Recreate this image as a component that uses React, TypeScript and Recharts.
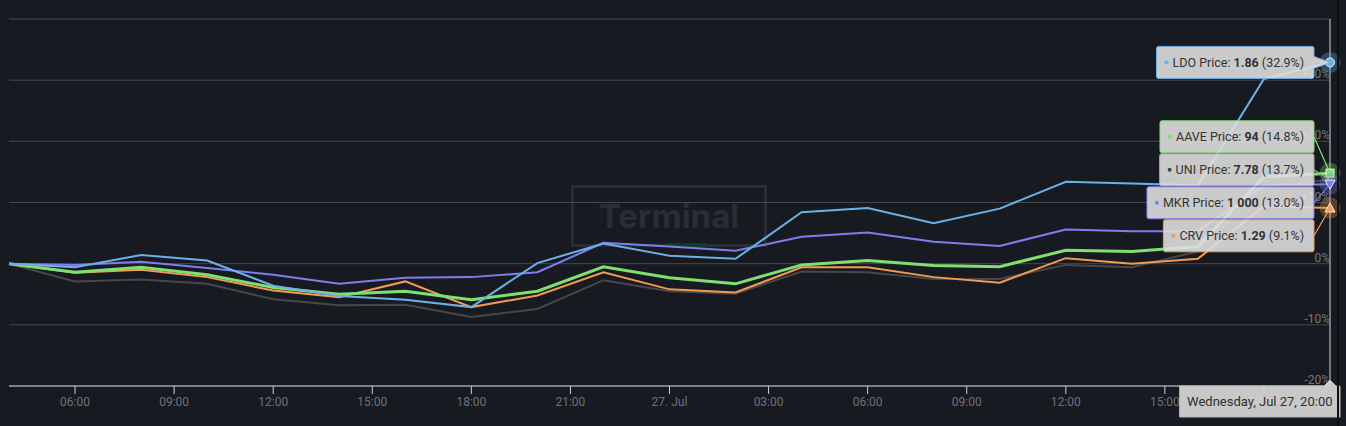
import React, { useState, useLayoutEffect, useCallback } from 'react';
import { LineChart, Line, XAxis, YAxis, CartesianGrid, ReferenceLine } from 'recharts';

// ---------- data ----------
const hours = [4, 6, 8, 10, 12, 14, 16, 18, 20, 22, 24, 26, 28, 30, 32, 34, 36, 38, 40, 42, 44];
const ldoPct = [0, -0.6, 1.4, 0.5, -3.6, -5.3, -5.9, -7.1, 0.1, 3.3, 1.3, 0.8, 8.4, 9.1, 6.6, 9.0, 13.4, 13.1, 12.8, 30.2, 32.9];
const aavePct = [0, -1.4, -0.6, -1.8, -3.9, -5.0, -4.5, -5.9, -4.5, -0.5, -2.3, -3.3, -0.2, 0.5, -0.3, -0.5, 2.2, 2.0, 2.8, 14.2, 14.8];
const uniPct = [0, -2.9, -2.6, -3.3, -5.8, -6.8, -6.7, -8.7, -7.4, -2.7, -4.5, -4.9, -1.3, -1.4, -2.5, -2.5, -0.2, -0.6, 2.0, 12.6, 13.7];
const mkrPct = [0, -0.2, 0.3, -0.7, -1.8, -3.3, -2.3, -2.2, -1.4, 3.4, 2.8, 2.1, 4.4, 5.1, 3.6, 2.9, 5.6, 5.3, 5.3, 12.8, 13.0];
const crvPct = [0, -1.5, -1.0, -2.2, -4.4, -5.5, -2.9, -7.1, -5.2, -1.4, -4.2, -4.7, -0.6, -0.6, -2.2, -3.1, 0.9, 0.0, 0.8, 9.4, 9.1];

const seriesNames = ['UNI', 'CRV', 'AAVE', 'MKR', 'LDO'];
const lastPrices = ['7.78', '1.29', '94', '1\u00a0000', '1.86'];
const lastChanges = [13.7, 9.1, 14.8, 13.0, 32.9];

const xTicks = [6, 9, 12, 15, 18, 21, 24, 27, 30, 33, 36, 39, 42];
const yTicks = [-20, -10, 0, 10, 20, 30, 40];
const dateLabel = 'Wednesday, Jul 27, 20:00';
const watermark = 'Terminal';

// ---------- styles ----------
const W = 1346;
const H = 426;
const BG = '#181a21';
const FONT = 'Roboto, "Liberation Sans", sans-serif';
const LABEL_FS = 12.5;
const seriesStyle: Record<string, { color: string; width: number; shape: string; border: string }> = {
  UNI: { color: '#474747', width: 2, shape: 'diamond', border: '#a8a8a8' },
  CRV: { color: '#f29b52', width: 2, shape: 'triangle', border: '#f29b52' },
  AAVE: { color: '#7fe06f', width: 3, shape: 'square', border: '#7fe06f' },
  MKR: { color: '#7d7ef0', width: 2, shape: 'triangle-down', border: '#7d7ef0' },
  LDO: { color: '#6cb0e8', width: 2, shape: 'circle', border: '#6cb0e8' },
};
const seriesValues = [uniPct, crvPct, aavePct, mkrPct, ldoPct];

const data = hours.map((h, i) => {
  const row: Record<string, number> = { h };
  seriesNames.forEach((n, k) => {
    row[n] = seriesValues[k][i];
  });
  return row;
});

let ctx: CanvasRenderingContext2D | null = null;
function measure(text: string, font: string) {
  if (!ctx) ctx = document.createElement('canvas').getContext('2d');
  if (!ctx) return text.length * 6;
  ctx.font = font;
  return ctx.measureText(text).width;
}

function fmtHour(h: number) {
  const hh = h % 24;
  if (hh === 0) return '27. Jul';
  return `${hh < 10 ? '0' : ''}${hh}:00`;
}

type Pos = Record<string, { x: number; y: number }>;

function EndDot(props: any) {
  const { cx, cy, name, register } = props;
  const st = seriesStyle[name];
  useLayoutEffect(() => {
    if (typeof cx === 'number' && typeof cy === 'number') register(name, cx, cy);
  }, [cx, cy]);
  if (typeof cx !== 'number' || typeof cy !== 'number') return <g />;
  let m: React.ReactNode = null;
  if (st.shape === 'circle') m = <circle cx={cx} cy={cy} r={4.5} fill={st.color} stroke="#e8f2ff" strokeWidth={1} />;
  else if (st.shape === 'square') m = <rect x={cx - 4} y={cy - 4} width={8} height={8} fill={st.color} stroke="#eaffea" strokeWidth={1} />;
  else if (st.shape === 'triangle-down') m = <path d={`M${cx - 5},${cy - 4}L${cx + 5},${cy - 4}L${cx},${cy + 5}Z`} fill={st.color} stroke="#eeeeff" strokeWidth={1} />;
  else if (st.shape === 'triangle') m = <path d={`M${cx - 5},${cy + 4}L${cx + 5},${cy + 4}L${cx},${cy - 5}Z`} fill={st.color} stroke="#fff2e6" strokeWidth={1} />;
  else m = <path d={`M${cx},${cy - 4}L${cx + 4},${cy}L${cx},${cy + 4}L${cx - 4},${cy}Z`} fill={st.color} />;
  return (
    <g>
      <circle cx={cx} cy={cy} r={10.5} fill={st.color} opacity={st.shape === 'diamond' ? 0 : 0.3} />
      {m}
    </g>
  );
}

function YTick(props: any) {
  const { x, y, payload } = props;
  const v = payload?.value;
  if (v === 40) return <g />;
  const label = v > 0 ? `+${v}%` : `${v}%`;
  return (
    <text x={x} y={y - 2} textAnchor="end" fill="#74777e" fontSize={12} fontFamily={FONT}>
      {label}
    </text>
  );
}

function XTick(props: any) {
  const { x, y, payload, register, axisY } = props;
  const v = payload?.value;
  useLayoutEffect(() => {
    if (typeof y === 'number') register('__bottom', x, y - axisY);
  }, [x, y]);
  return (
    <text x={x} y={y} dy="0.71em" textAnchor="middle" fill="#6e7178" fontSize={12} fontFamily={FONT}>
      {fmtHour(v)}
    </text>
  );
}

function callout(x: number, y: number, w: number, h: number, ax: number, ay: number) {
  const r = 2;
  let right: string;
  if (ay > y + 8 && ay < y + h - 8) {
    right = `L${x + w},${ay - 6} L${ax},${ay} L${x + w},${ay + 6}`;
  } else {
    right = `L${x + w},${y + h / 2} L${ax},${ay} L${x + w},${y + h / 2}`;
  }
  return `M${x + r},${y} L${x + w - r},${y} Q${x + w},${y} ${x + w},${y + r} ${right} L${x + w},${y + h - r} Q${x + w},${y + h} ${x + w - r},${y + h} L${x + r},${y + h} Q${x},${y + h} ${x},${y + h - r} L${x},${y + r} Q${x},${y} ${x + r},${y} Z`;
}

function layoutLabels(pos: Pos) {
  const BOX_H = 32;
  const PITCH = 33;
  const items = seriesNames
    .map((n, k) => ({ name: n, k, x: pos[n]?.x, y: pos[n]?.y }))
    .filter((it) => typeof it.y === 'number')
    .sort((a, b) => a.y - b.y);
  let groups = items.map((it) => ({ items: [it], top: it.y - BOX_H / 2 }));
  let changed = true;
  while (changed) {
    changed = false;
    for (let i = 0; i < groups.length - 1; i++) {
      const g = groups[i];
      const nx = groups[i + 1];
      if (g.top + g.items.length * PITCH > nx.top) {
        const all = [...g.items, ...nx.items];
        const top = all.reduce((s, it, j) => s + (it.y - BOX_H / 2 - j * PITCH), 0) / all.length;
        groups.splice(i, 2, { items: all, top });
        changed = true;
        break;
      }
    }
  }
  const out: { name: string; k: number; x: number; y: number; top: number }[] = [];
  groups.forEach((g) => g.items.forEach((it, j) => out.push({ ...it, top: g.top + j * PITCH })));
  return out;
}

const TICK_SIZE = 8;
const TICK_MARGIN = 3;

export default function App() {
  const [pos, setPos] = useState<Pos>({});
  const register = useCallback((k: string, x: number, y: number) => {
    setPos((p) => (p[k] && p[k].x === x && p[k].y === y ? p : { ...p, [k]: { x, y } }));
  }, []);

  const ready = seriesNames.every((n) => pos[n]) && pos.__bottom;
  const labels = ready ? layoutLabels(pos) : [];

  const fontN = `${LABEL_FS}px ${FONT}`;
  const fontB = `bold ${LABEL_FS}px ${FONT}`;

  let dateBox: React.ReactNode = null;
  if (ready) {
    const ax = pos.LDO.x;
    const top = pos.__bottom.y;
    const w = measure(dateLabel, `13px ${FONT}`) + 15;
    const h = 31;
    const left = Math.min(ax - w / 2, W - 6 - w);
    const d = `M${left},${top} L${ax - 6},${top} L${ax},${top - 6} L${ax + 6},${top} L${left + w},${top} L${left + w},${top + h} L${left},${top + h} Z`;
    dateBox = (
      <g>
        <path d={d} fill="rgba(214,214,214,0.93)" stroke="#b9b9b9" strokeWidth={1} />
        <text x={left + w / 2} y={top + h / 2 + 4.5} textAnchor="middle" fontSize={13} fontFamily={FONT} fill="#2e2e2e">
          {dateLabel}
        </text>
      </g>
    );
  }

  return (
    <div style={{ position: 'absolute', left: 0, top: 0, width: W, height: H, background: BG, overflow: 'hidden', fontFamily: FONT }}>
      {/* watermark */}
      <div
        style={{
          position: 'absolute',
          left: 571,
          top: 185,
          width: 190,
          height: 56,
          border: '3px solid #292c33',
          color: '#2a2d34',
          fontWeight: 700,
          fontSize: 33,
          lineHeight: '56px',
          textAlign: 'center',
          fontFamily: 'Inter, sans-serif',
        }}
      >
        {watermark}
      </div>
      <div style={{ position: 'absolute', left: 666, top: 243, width: 41, height: 4, background: '#0f3a2d' }} />
      <div style={{ position: 'absolute', left: 0, top: 0 }}>
        <LineChart width={W} height={H} data={data} margin={{ top: 19, right: 15, left: 9, bottom: 10 }}>
          <CartesianGrid vertical={false} stroke="#45484f" />
          <XAxis
            dataKey="h"
            type="number"
            domain={[4, 44]}
            ticks={xTicks}
            interval={0}
            height={30}
            stroke="#c9d1e3"
            tickSize={TICK_SIZE}
            tickMargin={TICK_MARGIN}
            tick={(p: any) => (
              <XTick key={`xt-${p.payload?.value}`} {...p} register={register} axisY={TICK_SIZE + TICK_MARGIN} />
            )}
          />
          <YAxis
            orientation="right"
            width={1}
            domain={[-20, 40]}
            ticks={yTicks}
            interval={0}
            axisLine={false}
            tickLine={false}
            tickSize={0}
            tickMargin={0}
            tick={(p: any) => <YTick key={`yt-${p.payload?.value}`} {...p} />}
          />
          <ReferenceLine x={44} stroke="#cfd3da" strokeWidth={1} />
          {seriesNames.map((n) => (
            <Line
              key={n}
              dataKey={n}
              type="linear"
              stroke={seriesStyle[n].color}
              strokeWidth={seriesStyle[n].width}
              isAnimationActive={false}
              activeDot={false}
              dot={(p: any) =>
                p.index === hours.length - 1 ? (
                  <EndDot key={`dot-${n}-${p.index}`} cx={p.cx} cy={p.cy} name={n} register={register} />
                ) : (
                  <g key={`dot-${n}-${p.index}`} />
                )
              }
            />
          ))}
        </LineChart>
      </div>
      <svg width={W} height={H} style={{ position: 'absolute', left: 0, top: 0, pointerEvents: 'none' }}>
        {labels.map((l) => {
          const st = seriesStyle[l.name];
          const head = `${l.name} Price: `;
          const val = lastPrices[l.k];
          const tail = ` (${lastChanges[l.k].toFixed(1)}%)`;
          const tw = measure(head, fontN) + measure(val, fontB) + measure(tail, fontN);
          const w = tw + 26;
          const right = l.x - 16;
          const left = right - w;
          const h = 32;
          return (
            <g key={l.name}>
              <path d={callout(left, l.top, w, h, l.x, l.y)} fill="rgba(222,222,222,0.9)" stroke={st.border} strokeWidth={1} />
              <circle cx={left + 10} cy={l.top + h / 2} r={2} fill={st.color} />
              <text x={left + 16} y={l.top + h / 2 + 4.5} fontSize={LABEL_FS} fontFamily={FONT} fill="#333" style={{ whiteSpace: 'pre' }}>
                <tspan>{head}</tspan>
                <tspan fontWeight="bold">{val}</tspan>
                <tspan>{tail}</tspan>
              </text>
            </g>
          );
        })}
        {dateBox}
      </svg>
      <div style={{ position: 'absolute', left: 1337, top: 0, width: 2, height: H, background: '#0e1014' }} />
    </div>
  );
}
